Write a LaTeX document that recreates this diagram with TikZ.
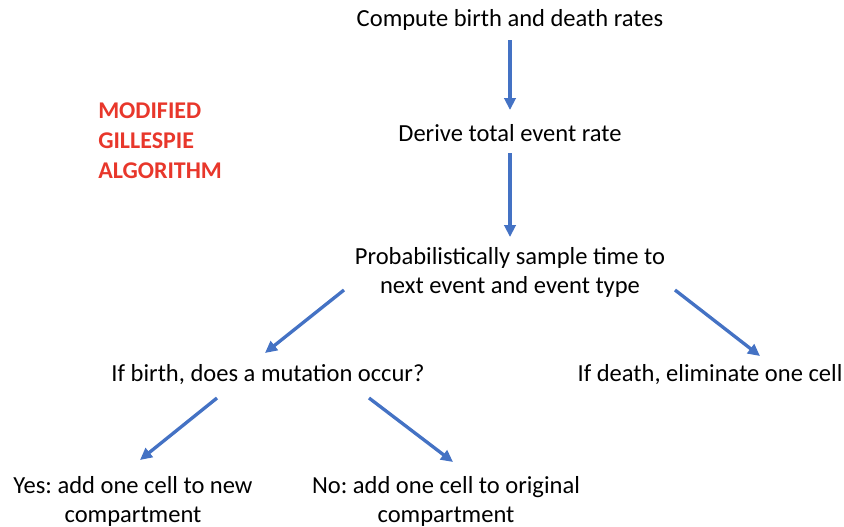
\documentclass[tikz,border=0pt]{standalone}
\usepackage{fontspec}
\setmainfont{Carlito}
\frenchspacing
\usepackage{tikz}
\usetikzlibrary{arrows.meta}

\definecolor{flowblue}{HTML}{4472C4}
\definecolor{titlered}{HTML}{E8372B}

\tikzset{
    step text/.style={inner sep=0pt, align=center, font=\fontsize{18.4}{21.75}\selectfont},
    flow/.style={flowblue, line width=2.5pt, -{Triangle[width=8.5pt, length=9pt]}},
}

\begin{document}
\begin{tikzpicture}[x=0.75pt, y=-0.75pt]
            \useasboundingbox (0,0) rectangle (844,526);
            % steps of the algorithm
            \node[step text] (rates)  at (510,20)   {Compute birth and death rates};
            \node[step text] (total)  at (510,133)  {Derive total event rate};
            \node[step text] (sample) at (510,272)  {Probabilistically sample time to\\next event and event type};
            \node[step text] (birth)  at (268,375)  {If birth, does a mutation occur?};
            \node[step text] (death)  at (710,375)  {If death, eliminate one cell};
            \node[step text] (yes)    at (133,501)  {Yes: add one cell to new\\compartment};
            \node[step text] (no)     at (446,501)  {No: add one cell to original\\compartment};
            \node[inner sep=0pt, align=left, anchor=north west, text=titlered,
                  font=\fontsize{18}{22.5}\selectfont\bfseries] (title) at (98,102)
                  {MODIFIED\\GILLESPIE\\ALGORITHM};
            % arrows
            \draw[flow] ([shift={(0,20)}]rates.center) -- ([shift={(0,-23)}]total.center);
            \draw[flow] ([shift={(0,20)}]total.center) -- ([shift={(0,-35)}]sample.center);
            \draw[flow] ([shift={(-166,18)}]sample.center) -- ([shift={(-3,-22)}]birth.center);
            \draw[flow] ([shift={(165,18)}]sample.center) -- ([shift={(50,-19)}]death.center);
            \draw[flow] ([shift={(-51,23)}]birth.center) -- ([shift={(7,-41)}]yes.center);
            \draw[flow] ([shift={(101,23)}]birth.center) -- ([shift={(7,-39)}]no.center);
        \end{tikzpicture}
\end{document}
